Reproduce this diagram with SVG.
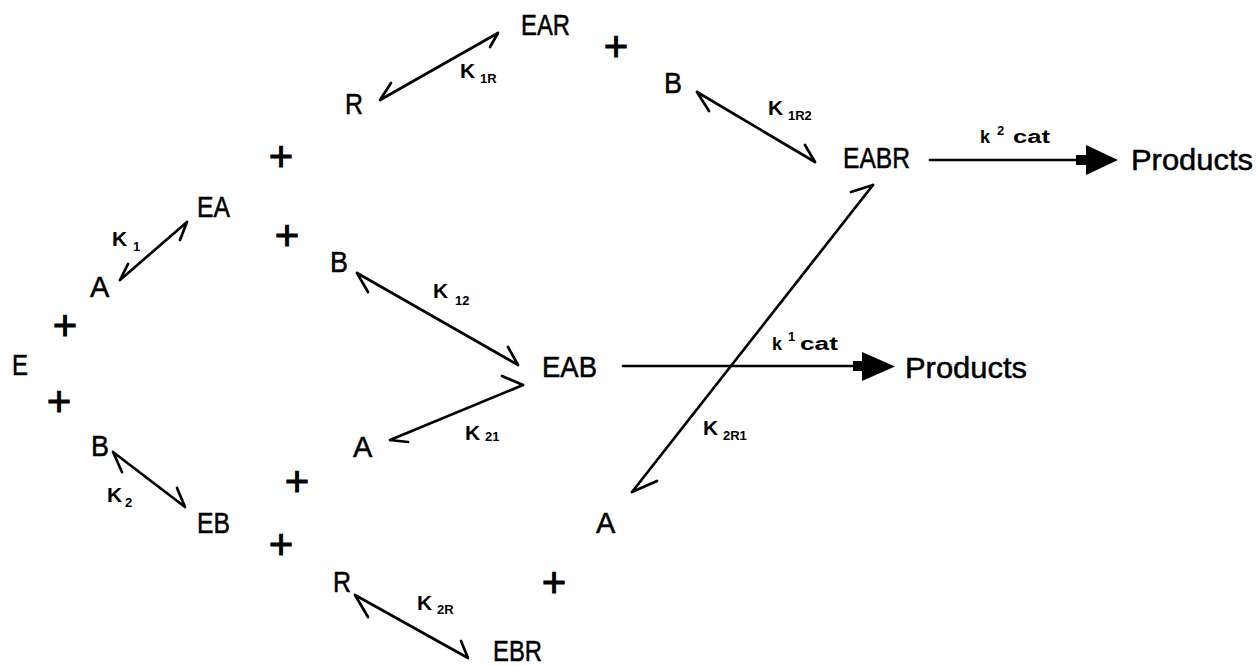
<svg xmlns="http://www.w3.org/2000/svg" width="1259" height="666" viewBox="0 0 1259 666">
<style>
.n{font-family:"Liberation Sans",Arial,sans-serif;font-size:29px;fill:#000;stroke:#000;stroke-width:0.5}
.p{font-family:"Liberation Sans",Arial,sans-serif;font-size:42px;fill:#000;stroke:#000;stroke-width:0.9;text-anchor:middle}
.k{font-family:"Liberation Sans",Arial,sans-serif;font-size:21px;font-weight:bold;fill:#000}
.s{font-family:"Liberation Sans",Arial,sans-serif;font-size:13px;font-weight:bold;fill:#000}
.c{font-family:"Liberation Sans",Arial,sans-serif;font-size:18px;font-weight:bold;fill:#000}
.ln{fill:none;stroke:#000;stroke-width:2.7;stroke-linecap:round;stroke-linejoin:round}
.hd{fill:#000;stroke:none}
</style>
<rect width="1259" height="666" fill="#fff"/>
<g id="connectors">
<path class="ln" d="M380,100 L498,33 M498,33 L490,47 M380,100 L391,83"/>
<path class="ln" d="M697,92 L815,162 M697,92 L709,111 M815,162 L805,145"/>
<path class="ln" d="M120,280 L187,222 M187,222 L180,240 M120,280 L128,264"/>
<path class="ln" d="M357,273 L518,365 M357,273 L368,292 M518,365 L508,347"/>
<path class="ln" d="M390,440 L523,385 M523,385 L502,376 M390,440 L408,442"/>
<path class="ln" d="M113,452 L185,507 M113,452 L122,472 M185,507 L177,488"/>
<path class="ln" d="M355,595 L468,658 M355,595 L368,617 M468,658 L461,641"/>
<path class="ln" d="M632,492 L873,185 M873,185 L851,192 M632,492 L657,481"/>
<path class="ln" d="M623,366 L856,366"/>
<rect class="hd" x="853" y="361" width="11" height="10"/>
<polygon class="hd" points="862,352 895,366.5 862,381"/>
<path class="ln" d="M930,160 L1078,160"/>
<rect class="hd" x="1076" y="155" width="12" height="10"/>
<polygon class="hd" points="1086,145 1118,160 1086,175"/>
</g>
<g id="node-EAR"><text class="n" x="521" y="35" textLength="49" lengthAdjust="spacingAndGlyphs">EAR</text></g>
<g id="node-R-top"><text class="n" x="345" y="114" textLength="18" lengthAdjust="spacingAndGlyphs">R</text></g>
<g id="node-B-top"><text class="n" x="664" y="93" textLength="18" lengthAdjust="spacingAndGlyphs">B</text></g>
<g id="node-EABR"><text class="n" x="843" y="168" textLength="67" lengthAdjust="spacingAndGlyphs">EABR</text></g>
<g id="node-Products-top"><text class="n" x="1131" y="170" textLength="122" lengthAdjust="spacingAndGlyphs">Products</text></g>
<g id="node-EA"><text class="n" x="197" y="217" textLength="33" lengthAdjust="spacingAndGlyphs">EA</text></g>
<g id="node-A-left"><text class="n" x="90" y="297">A</text></g>
<g id="node-E"><text class="n" x="12" y="375" textLength="16" lengthAdjust="spacingAndGlyphs">E</text></g>
<g id="node-B-left"><text class="n" x="91" y="456" textLength="18" lengthAdjust="spacingAndGlyphs">B</text></g>
<g id="node-EB"><text class="n" x="197" y="533" textLength="33" lengthAdjust="spacingAndGlyphs">EB</text></g>
<g id="node-B-mid"><text class="n" x="330" y="272" textLength="18" lengthAdjust="spacingAndGlyphs">B</text></g>
<g id="node-EAB"><text class="n" x="542" y="377" textLength="55" lengthAdjust="spacingAndGlyphs">EAB</text></g>
<g id="node-A-mid"><text class="n" x="353" y="457">A</text></g>
<g id="node-Products-mid"><text class="n" x="905" y="378" textLength="122" lengthAdjust="spacingAndGlyphs">Products</text></g>
<g id="node-A-bottom"><text class="n" x="596" y="533">A</text></g>
<g id="node-R-bottom"><text class="n" x="333" y="592" textLength="18" lengthAdjust="spacingAndGlyphs">R</text></g>
<g id="node-EBR"><text class="n" x="493" y="661" textLength="49" lengthAdjust="spacingAndGlyphs">EBR</text></g>
<g id="plus-signs">
<text class="p" x="616" y="61">+</text>
<text class="p" x="281" y="171">+</text>
<text class="p" x="287" y="250">+</text>
<text class="p" x="65" y="340">+</text>
<text class="p" x="59" y="416">+</text>
<text class="p" x="297" y="496">+</text>
<text class="p" x="281" y="559">+</text>
<text class="p" x="554" y="597">+</text>
</g>
<g id="labels">
<text class="k" x="460" y="78">K</text><text class="s" x="480" y="83">1R</text>
<text class="k" x="768" y="115">K</text><text class="s" x="788" y="120">1R2</text>
<text class="k" x="112" y="246">K</text><text class="s" x="133" y="251">1</text>
<text class="k" x="433" y="298">K</text><text class="s" x="455" y="305">12</text>
<text class="k" x="465" y="440">K</text><text class="s" x="485" y="441">21</text>
<text class="k" x="107" y="502">K</text><text class="s" x="125" y="507">2</text>
<text class="k" x="417" y="610">K</text><text class="s" x="437" y="614">2R</text>
<text class="k" x="703" y="435">K</text><text class="s" x="723" y="440">2R1</text>
<text class="c" x="980" y="143">k</text><text class="s" x="997" y="135">2</text><text class="c" x="1013" y="143" textLength="37" lengthAdjust="spacingAndGlyphs">cat</text>
<text class="c" x="772" y="350">k</text><text class="s" x="788" y="341">1</text><text class="c" x="800" y="350" textLength="38" lengthAdjust="spacingAndGlyphs">cat</text>
</g>
</svg>
